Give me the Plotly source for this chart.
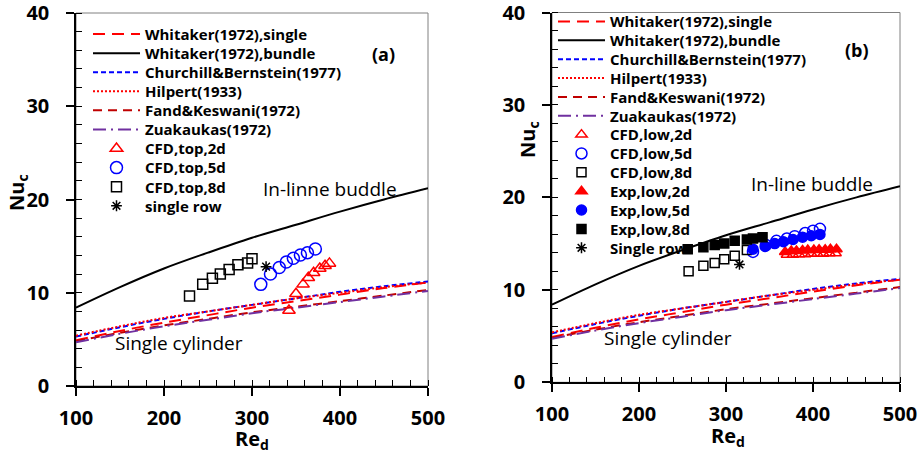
import plotly.graph_objects as go

W, H = 921, 454

# ---------------- data ----------------
re_curve = [100, 150, 200, 250, 300, 350, 400, 450, 500]
nu_whitaker_single = [4.9, 5.9, 6.8, 7.6, 8.4, 9.1, 9.8, 10.5, 11.1]
nu_whitaker_bundle = [8.4, 10.6, 12.6, 14.3, 15.9, 17.3, 18.7, 20.0, 21.2]
nu_churchill = [5.3, 6.3, 7.2, 8.0, 8.7, 9.4, 10.1, 10.7, 11.2]
nu_hilpert = [5.4, 6.4, 7.3, 8.0, 8.7, 9.4, 10.0, 10.6, 11.1]
nu_fand = [4.8, 5.7, 6.5, 7.2, 7.9, 8.5, 9.1, 9.7, 10.3]
nu_zukauskas = [4.7, 5.6, 6.4, 7.1, 7.8, 8.4, 9.0, 9.6, 10.2]

# panel (a)
re_a_2d = [342, 350, 358, 364, 370, 377, 383, 388]
nu_a_2d = [8.1, 9.9, 10.9, 11.6, 12.15, 12.6, 12.9, 13.15]
re_a_5d = [310, 321, 331, 339, 347, 355, 363, 372]
nu_a_5d = [10.9, 12.0, 12.7, 13.3, 13.7, 14.05, 14.3, 14.7]
re_a_8d = [229, 244, 255, 264, 274, 284, 295, 300]
nu_a_8d = [9.65, 10.9, 11.55, 12.0, 12.5, 13.0, 13.2, 13.65]
re_a_single = [316]
nu_a_single = [12.8]

# panel (b)
re_b_cfd2 = [370, 377, 384, 391, 398, 405, 412, 419, 426]
nu_b_cfd2 = [13.8, 13.8, 13.85, 13.85, 13.9, 13.9, 13.9, 13.95, 13.95]
re_b_cfd5 = [331, 346, 358, 370, 379, 391, 400, 408]
nu_b_cfd5 = [14.1, 14.85, 15.3, 15.55, 15.8, 16.15, 16.4, 16.6]
re_b_cfd8 = [257, 274, 287, 298, 310, 324]
nu_b_cfd8 = [12.0, 12.6, 12.9, 13.3, 13.7, 14.3]
re_b_exp2 = [368, 375, 381, 388, 394, 401, 407, 414, 420, 427]
nu_b_exp2 = [14.1, 14.2, 14.2, 14.25, 14.3, 14.3, 14.35, 14.35, 14.4, 14.4]
re_b_exp5 = [331, 345, 356, 366, 377, 388, 398, 408]
nu_b_exp5 = [14.4, 14.7, 15.0, 15.2, 15.45, 15.7, 15.85, 16.0]
re_b_exp8 = [256, 274, 287, 298, 310, 324, 331, 342]
nu_b_exp8 = [14.4, 14.6, 14.85, 15.0, 15.3, 15.45, 15.55, 15.7]
re_b_single = [315.5]
nu_b_single = [12.75]

x_ticks = [100, 200, 300, 400, 500]
y_ticks = [0, 10, 20, 30, 40]

# ---------------- style ----------------
RED = "#FF0000"
BLUE = "#0000FF"
DKRED = "#C00000"
PURPLE = "#7030A0"
BLACK = "#000000"
FONT = "Open Sans"


def px(x):
    return x / W


def py(y):
    return 1 - y / H


fig = go.Figure()

legends = {}
leg_font = dict(family=FONT, size=15, color=BLACK, weight="bold")


def new_legend(x, yc):
    n = len(legends) + 1
    name = "legend" if n == 1 else f"legend{n}"
    legends[name] = dict(x=px(x), y=py(yc), xanchor="left", yanchor="middle",
                         bgcolor="rgba(0,0,0,0)", font=leg_font, itemwidth=47,
                         borderwidth=0)
    return name


panels = [
    dict(xa="x", ya="y", lx=88, ly0=34.3, dy=19.08),
    dict(xa="x2", ya="y2", lx=553, ly0=21.7, dy=18.86),
]

curves = [
    ("Whitaker(1972),single", nu_whitaker_single, RED, "12px,7px"),
    ("Whitaker(1972),bundle", nu_whitaker_bundle, BLACK, "solid"),
    ("Churchill&Bernstein(1977)", nu_churchill, BLUE, "5px,3px"),
    ("Hilpert(1933)", nu_hilpert, RED, "2px,2px"),
    ("Fand&Keswani(1972)", nu_fand, DKRED, "9px,6px"),
    ("Zuakaukas(1972)", nu_zukauskas, PURPLE, "13px,5px,2px,5px"),
]

markers = [
    [
        (re_a_2d, nu_a_2d, "CFD,top,2d", "triangle-up-open", RED, 11),
        (re_a_5d, nu_a_5d, "CFD,top,5d", "circle-open", BLUE, 12),
        (re_a_8d, nu_a_8d, "CFD,top,8d", "square-open", BLACK, 10),
        (re_a_single, nu_a_single, "single row", "asterisk-open", BLACK, 9),
    ],
    [
        (re_b_cfd2, nu_b_cfd2, "CFD,low,2d", "triangle-up-open", RED, 10),
        (re_b_cfd5, nu_b_cfd5, "CFD,low,5d", "circle-open", BLUE, 11),
        (re_b_cfd8, nu_b_cfd8, "CFD,low,8d", "square-open", BLACK, 9),
        (re_b_exp2, nu_b_exp2, "Exp,low,2d", "triangle-up", RED, 10),
        (re_b_exp5, nu_b_exp5, "Exp,low,5d", "circle", BLUE, 10),
        (re_b_exp8, nu_b_exp8, "Exp,low,8d", "square", BLACK, 9),
        (re_b_single, nu_b_single, "Single row", "asterisk-open", BLACK, 9),
    ],
]

for p, pan in enumerate(panels):
    i = 0
    for name, vals, col, dash in curves:
        leg = new_legend(pan["lx"], pan["ly0"] + i * pan["dy"])
        i += 1
        fig.add_trace(go.Scatter(
            x=re_curve, y=vals, mode="lines", name=name,
            line=dict(color=col, dash=dash, width=2, shape="spline"),
            xaxis=pan["xa"], yaxis=pan["ya"], legend=leg))
    for xs, ys, name, sym, col, size in markers[p]:
        leg = new_legend(pan["lx"], pan["ly0"] + i * pan["dy"])
        i += 1
        fig.add_trace(go.Scatter(
            x=xs, y=ys, mode="markers", name=name,
            marker=dict(symbol=sym, color=col, size=size,
                        line=dict(color=col, width=1.5)),
            xaxis=pan["xa"], yaxis=pan["ya"], legend=leg))

tick_font = dict(family=FONT, size=20, color=BLACK, weight="bold")


def xaxis(domain, anchor):
    return dict(domain=domain, anchor=anchor, range=[100, 500],
                tickvals=x_ticks, ticks="outside", ticklen=8, tickwidth=1.5,
                tickcolor=BLACK, showline=True, linecolor=BLACK, linewidth=1.5,
                showgrid=False, zeroline=False, tickfont=tick_font,
                ticklabelstandoff=5, automargin=False,
                ticklabeloverflow="allow",
                minor=dict(ticks="inside", ticklen=6, tickwidth=1, dtick=20,
                           tickcolor=BLACK, showgrid=False))


def yaxis(domain, anchor):
    return dict(domain=domain, anchor=anchor, range=[0, 40],
                tickvals=y_ticks, ticks="outside", ticklen=8, tickwidth=1.5,
                tickcolor=BLACK, showline=True, linecolor=BLACK, linewidth=1.5,
                showgrid=False, zeroline=False, tickfont=tick_font,
                ticklabelstandoff=13, automargin=False,
                ticklabeloverflow="allow",
                minor=dict(ticks="inside", ticklen=6, tickwidth=1, dtick=2,
                           tickcolor=BLACK, showgrid=False))


fig.update_layout(
    width=W, height=H,
    margin=dict(l=0, r=0, t=0, b=0, autoexpand=False),
    paper_bgcolor="white", plot_bgcolor="white",
    showlegend=True,
    xaxis=xaxis([px(76), px(428)], "y"),
    yaxis=yaxis([py(386), py(13)], "x"),
    xaxis2=xaxis([px(552), px(900)], "y2"),
    yaxis2=yaxis([py(382.3), py(12.5)], "x2"),
    **legends,
)

# plot frame (top / right borders)
for xr, yr in [("x domain", "y domain"), ("x2 domain", "y2 domain")]:
    fig.add_shape(type="rect", xref=xr, yref=yr, x0=0, x1=1, y0=0, y1=1,
                  line=dict(color="#808080", width=1), layer="below")

ann_font = dict(family=FONT, size=19, color=BLACK)
lab_font = dict(family=FONT, size=18, color=BLACK, weight="bold")
bold_font = dict(family=FONT, size=20, color=BLACK, weight="bold")
annots = [
    ("In-linne buddle", 330, 189, ann_font, 0),
    ("Single cylinder", 179, 343, ann_font, 0),
    ("(a)", 383, 54, lab_font, 0),
    ("In-line buddle", 812, 184, ann_font, 0),
    ("Single cylinder", 668, 338, ann_font, 0),
    ("(b)", 857, 50, lab_font, 0),
    ("Nu<sub>c</sub>", 17, 193, bold_font, -90),
    ("Nu<sub>c</sub>", 529, 140, bold_font, -90),
    ("Re<sub>d</sub>", 252, 439, bold_font, 0),
    ("Re<sub>d</sub>", 728, 436, bold_font, 0),
]
for text, x, y, f, ang in annots:
    fig.add_annotation(text=text, x=px(x), y=py(y), xref="paper", yref="paper",
                       showarrow=False, font=f, textangle=ang,
                       xanchor="center", yanchor="middle")

fig.write_html("out.html")
